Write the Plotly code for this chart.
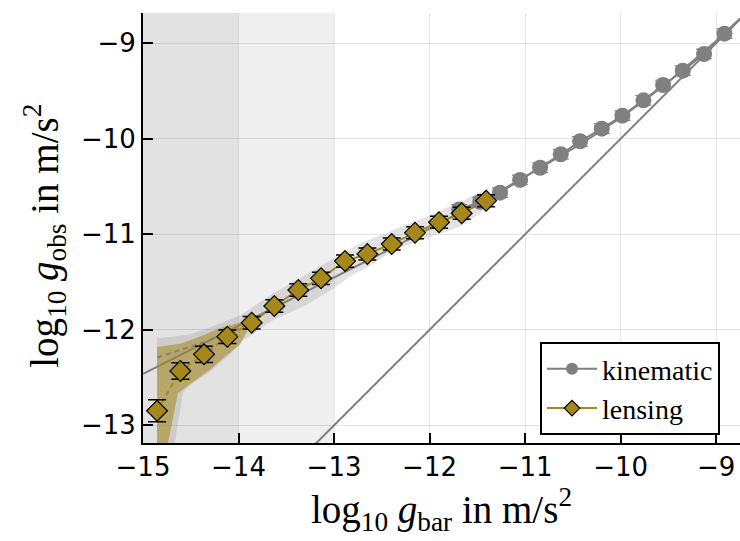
import plotly.graph_objects as go

# ---------------- data ----------------
kin_x = [-11.69, -11.47, -11.262, -11.052, -10.843, -10.626, -10.424, -10.197,
         -9.981, -9.761, -9.555, -9.349, -9.126, -8.913]
kin_y = [-10.74, -10.66, -10.564, -10.431, -10.303, -10.162, -10.026, -9.894,
         -9.758, -9.597, -9.437, -9.287, -9.112, -8.899]
kin_err = [0.05, 0.05, 0.05, 0.05, 0.05, 0.05, 0.05, 0.05, 0.05, 0.05, 0.05, 0.05, 0.05, 0.05]

lens_x = [-14.853, -14.609, -14.361, -14.117, -13.862, -13.625, -13.374, -13.136,
          -12.885, -12.651, -12.396, -12.152, -11.901, -11.664, -11.408]
lens_y = [-12.847, -12.431, -12.257, -12.072, -11.926, -11.751, -11.583, -11.461,
          -11.280, -11.206, -11.102, -10.983, -10.874, -10.780, -10.648]
lens_err = [0.115, 0.087, 0.084, 0.070, 0.066, 0.065, 0.065, 0.064,
            0.064, 0.063, 0.063, 0.063, 0.063, 0.063, 0.063]

# RAR curve values (log g_obs at given log g_bar)
rar_x = [-15.0, -14.5, -14.0, -13.5, -13.0, -12.5, -12.0, -11.5, -11.25, -11.0,
         -10.75, -10.5, -10.25, -10.0, -9.75, -9.5, -9.0, -8.75]
rar_y = [-12.460, -12.209, -11.958, -11.707, -11.454, -11.199, -10.941, -10.676,
         -10.539, -10.399, -10.255, -10.104, -9.945, -9.778, -9.598, -9.405,
         -8.975, -8.741]

# one-to-one line
unity_x = [-13.5, -8.5]
unity_y = [-13.5, -8.5]

# grey dashed line (lower-left)
gdash_x = [-14.85, -14.61, -14.36, -14.11, -13.86]
gdash_y = [-12.29, -12.21, -12.13, -12.03, -11.93]

# grey uncertainty band (upper edge left->right, lower edge right->left)
gband_up_x = [-14.853, -14.853, -14.51, -14.23, -13.984, -13.636, -13.181, -12.972,
              -12.728, -12.379, -12.03, -11.68, -11.471, -11.39]
gband_up_y = [-13.5, -12.09, -12.05, -11.95, -11.847, -11.618, -11.356, -11.235,
              -11.094, -10.955, -10.816, -10.659, -10.554, -10.52]
gband_lo_x = [-11.36, -11.40, -11.47, -11.68, -12.03, -12.38, -12.62, -12.83,
              -13.01, -13.29, -13.64, -13.98, -14.09, -14.30, -14.48, -14.58,
              -14.668, -14.70]
gband_lo_y = [-10.62, -10.72, -10.78, -10.92, -11.04, -11.17, -11.33, -11.44,
              -11.57, -11.74, -11.90, -12.13, -12.26, -12.44, -12.56, -12.65,
              -13.185, -13.5]

# lensing (olive) uncertainty band
oband_up_x = [-14.853, -14.853, -14.61, -14.40, -14.19, -13.90]
oband_up_y = [-13.5, -12.18, -12.145, -12.07, -11.98, -11.90]
oband_lo_x = [-13.90, -13.988, -14.145, -14.302, -14.476, -14.634, -14.738, -14.75]
oband_lo_y = [-12.00, -12.159, -12.282, -12.421, -12.543, -12.665, -13.185, -13.5]

GREY = "#808080"
OLIVE = "#a5871a"

fig = go.Figure()

# bands
fig.add_trace(go.Scatter(x=gband_up_x + gband_lo_x, y=gband_up_y + gband_lo_y,
                         fill="toself", fillcolor="rgba(128,128,128,0.22)",
                         line=dict(width=0), mode="lines", hoverinfo="skip",
                         showlegend=False))
fig.add_trace(go.Scatter(x=rar_x, y=rar_y, mode="lines",
                         line=dict(color=GREY, width=2), showlegend=False))
fig.add_trace(go.Scatter(x=oband_up_x + oband_lo_x, y=oband_up_y + oband_lo_y,
                         fill="toself", fillcolor="rgba(165,135,26,0.55)",
                         line=dict(width=0), mode="lines", hoverinfo="skip",
                         showlegend=False))
fig.add_trace(go.Scatter(x=unity_x, y=unity_y, mode="lines",
                         line=dict(color=GREY, width=2), showlegend=False))
fig.add_trace(go.Scatter(x=gdash_x, y=gdash_y, mode="lines",
                         line=dict(color=GREY, width=2, dash="5px,4px"),
                         showlegend=False))

# lensing connecting lines
fig.add_trace(go.Scatter(x=lens_x[:5], y=lens_y[:5], mode="lines",
                         line=dict(color=OLIVE, width=2, dash="5px,4px"),
                         showlegend=False))
fig.add_trace(go.Scatter(x=lens_x[4:], y=lens_y[4:], mode="lines",
                         line=dict(color=OLIVE, width=2), showlegend=False))

# kinematic
fig.add_trace(go.Scatter(x=kin_x, y=kin_y, mode="lines+markers", showlegend=False,
                         line=dict(color=GREY, width=2),
                         marker=dict(symbol="circle", size=16, color=GREY,
                                     line=dict(width=0)),
                         error_y=dict(type="data", array=kin_err, color=GREY,
                                      thickness=1.2, width=8)))

# lensing markers
fig.add_trace(go.Scatter(x=lens_x, y=lens_y, mode="markers", showlegend=False,
                         marker=dict(symbol="diamond", size=16, color=OLIVE,
                                     line=dict(width=1.2, color="black")),
                         error_y=dict(type="data", array=lens_err, color="black",
                                      thickness=1.5, width=9)))

# legend entries
fig.add_trace(go.Scatter(x=[None], y=[None], mode="lines+markers", name="kinematic",
                         line=dict(color=GREY, width=2),
                         marker=dict(symbol="circle", size=12, color=GREY)))
fig.add_trace(go.Scatter(x=[None], y=[None], mode="lines+markers", name="lensing",
                         line=dict(color=OLIVE, width=2),
                         marker=dict(symbol="diamond", size=12, color=OLIVE,
                                     line=dict(width=1.2, color="black"))))

# shaded regions
fig.add_shape(type="rect", xref="x", yref="paper", x0=-15, x1=-14, y0=0, y1=1,
              fillcolor="rgb(226,226,226)", line=dict(width=0), layer="below")
fig.add_shape(type="rect", xref="x", yref="paper", x0=-14, x1=-13, y0=0, y1=1,
              fillcolor="rgb(239,239,239)", line=dict(width=0), layer="below")

tickfont = dict(family="DejaVu Sans", size=26, color="black")
titlefont = dict(family="Liberation Serif", size=39, color="black")

fig.add_annotation(text="log<sub>10</sub> <i>g</i><sub>obs</sub> in m/s<sup>2</sup>",
                   xref="paper", yref="paper", x=-0.164, y=0.482,
                   xanchor="center", yanchor="middle", textangle=-90,
                   showarrow=False, font=titlefont)

fig.update_layout(
    width=740, height=541,
    margin=dict(l=143, r=0, t=13, b=98),
    paper_bgcolor="white", plot_bgcolor="white",
    showlegend=True,
    legend=dict(x=0.665, y=0.235, xanchor="left", yanchor="top",
                bgcolor="white", bordercolor="black", borderwidth=2,
                itemwidth=50, tracegroupgap=0,
                font=dict(family="Liberation Serif", size=28, color="black")),
    xaxis=dict(range=[-15, -8.75], tickvals=[-15, -14, -13, -12, -11, -10, -9],
               ticks="inside", ticklen=10, tickwidth=2, tickcolor="black",
               showline=True, linecolor="black", linewidth=2,
               showgrid=True, gridcolor="rgba(0,0,0,0.1)", gridwidth=1,
               zeroline=False, tickfont=tickfont,
               title=dict(text="log<sub>10</sub> <i>g</i><sub>bar</sub> in m/s<sup>2</sup>",
                          font=titlefont, standoff=7)),
    yaxis=dict(range=[-13.185, -8.683], tickvals=[-13, -12, -11, -10, -9],
               ticks="inside", ticklen=10, tickwidth=2, tickcolor="black",
               showline=True, linecolor="black", linewidth=2,
               showgrid=True, gridcolor="rgba(0,0,0,0.1)", gridwidth=1,
               zeroline=False, tickfont=tickfont),
)

fig.write_html("out.html", config={"displayModeBar": False},
               post_script="document.body.style.margin='0px';")
